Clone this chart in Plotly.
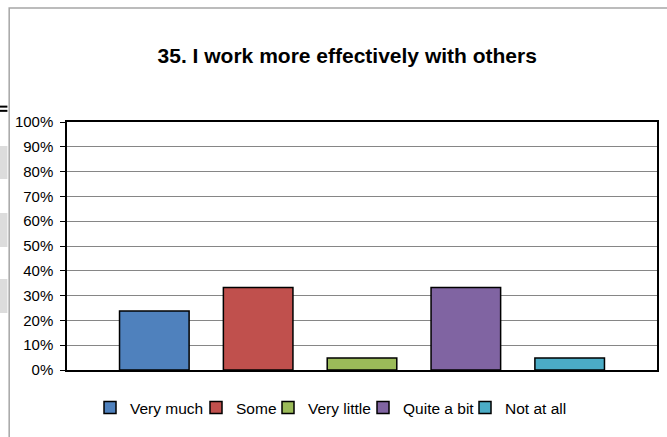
import plotly.graph_objects as go

# Données (part des réponses)
categories = ["Very much", "Some", "Very little", "Quite a bit", "Not at all"]
shares = [0.238, 0.333, 0.048, 0.333, 0.048]
colors = ["#4F81BD", "#C0504D", "#9BBB59", "#8064A2", "#4BACC6"]
y_ticks = [i / 10 for i in range(11)]

# Largeurs de légende resserrées pour imiter l'espacement Excel
legend_widths = [61, 27, 50, 57, 62]

fig = go.Figure()
for name, val, col, lw in zip(categories, shares, colors, legend_widths):
    fig.add_trace(go.Bar(
        x=[""],
        y=[val],
        name=name,
        legendwidth=lw,
        marker=dict(color=col, line=dict(color="black", width=1.5)),
    ))

# Cadre gris de la zone graphique (capture Excel)
fig.add_shape(type="rect", xref="paper", yref="paper",
              x0=-0.098, x1=1.2, y0=-0.6, y1=1.46,
              line=dict(color="#a6a6a6", width=1.5), layer="below")

# Artefacts sur le bord gauche de la capture
fig.add_shape(type="line", xref="paper", yref="paper",
              x0=-0.115, x1=-0.101, y0=1.062, y1=1.062,
              line=dict(color="black", width=2))
fig.add_shape(type="line", xref="paper", yref="paper",
              x0=-0.115, x1=-0.101, y0=1.045, y1=1.045,
              line=dict(color="black", width=2))
for top, bot in [(146, 179), (213, 247), (279, 313)]:
    fig.add_shape(type="rect", xref="paper", yref="paper",
                  x0=-0.115, x1=-0.101,
                  y0=(370 - bot) / 248, y1=(370 - top) / 248,
                  fillcolor="#dcdcdc", line_width=0)

fig.update_layout(
    width=667,
    height=437,
    margin=dict(l=67, r=8, t=122, b=67),
    barmode="group",
    bargap=0.12,
    bargroupgap=0.33,
    title=dict(
        text="<b>35. I work more effectively with others</b>",
        x=0.475, xref="paper", xanchor="center",
        y=1 - 56 / 437, yref="container", yanchor="middle",
        font=dict(family="Liberation Sans, Arial", size=21, color="black"),
    ),
    font=dict(family="Liberation Sans, Arial", size=15, color="black"),
    plot_bgcolor="white",
    paper_bgcolor="white",
    showlegend=True,
    legend=dict(
        orientation="h",
        x=0.039, xanchor="left",
        y=-0.153, yanchor="middle",
        font=dict(size=15.5),
        itemwidth=30,
        traceorder="normal",
    ),
    xaxis=dict(
        showticklabels=False,
        showline=True, linecolor="black", linewidth=1.5, mirror=True,
        showgrid=False, ticks="",
    ),
    yaxis=dict(
        range=[0, 1],
        tickvals=y_ticks,
        tickformat=".0%",
        showgrid=True, gridcolor="#868686", gridwidth=1.2,
        showline=True, linecolor="black", linewidth=1.5, mirror=True,
        ticks="outside", ticklen=5, tickcolor="black",
        ticklabelstandoff=4,
        zeroline=False,
    ),
)

# Supprime la marge par défaut du body pour caler la figure sur la fenêtre
fig.write_html("out.html", config={"displayModeBar": False},
               post_script="document.body.style.margin='0';")
